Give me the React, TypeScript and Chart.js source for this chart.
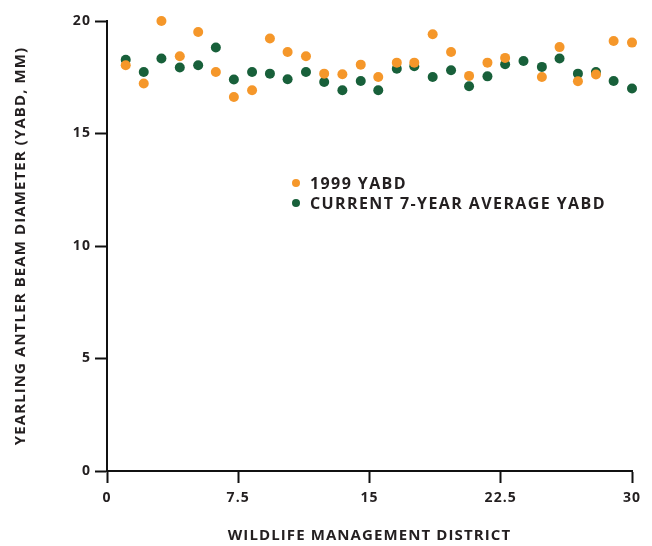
import React, { useEffect, useRef } from "react";
import { Chart, registerables } from "chart.js";

Chart.register(...registerables);

const districts = [
  1.07, 2.1, 3.11, 4.16, 5.21, 6.22, 7.25, 8.29, 9.31, 10.32, 11.37, 12.41, 13.45, 14.5, 15.5,
  16.56, 17.56, 18.61, 19.66, 20.69, 21.74, 22.75, 23.8, 24.85, 25.86, 26.91, 27.94, 28.95, 30.0,
];
const yabd1999: (number | null)[] = [
  18.03, 17.22, 20.0, 18.43, 19.51, 17.73, 16.62, 16.92, 19.22, 18.62, 18.43, 17.66, 17.63, 18.06, 17.51,
  18.15, 18.15, 19.41, 18.62, 17.56, 18.15, 18.36, null, 17.51, 18.84, 17.32, 17.62, 19.11, 19.04,
];
const yabdAverage = [
  18.28, 17.73, 18.33, 17.93, 18.03, 18.82, 17.4, 17.73, 17.66, 17.41, 17.73, 17.29, 16.92, 17.33, 16.92,
  17.88, 17.99, 17.51, 17.81, 17.1, 17.54, 18.08, 18.22, 17.96, 18.33, 17.66, 17.73, 17.33, 17.0,
];
const seriesLabels = ["1999 YABD", "CURRENT 7-YEAR AVERAGE YABD"];
const seriesColors = ["#F5972A", "#18603A"];
const xTitle = "WILDLIFE MANAGEMENT DISTRICT";
const yTitle = "YEARLING ANTLER BEAM DIAMETER (YABD, MM)";

const FONT = "'Open Sans', 'DejaVu Sans', sans-serif";
const INK = "#231f20";

const spacingPlugin = {
  id: "letterSpacing",
  beforeDraw(chart: any) {
    (chart.ctx as any).letterSpacing = "1.1px";
  },
  afterDraw(chart: any) {
    (chart.ctx as any).letterSpacing = "0px";
  },
};

const legendPlugin = {
  id: "customLegend",
  afterDraw(chart: any) {
    const { ctx, chartArea } = chart;
    const x0 = chartArea.left + 189;
    const y0 = chartArea.top + 162;
    ctx.save();
    ctx.letterSpacing = "1.4px";
    ctx.font = `700 16px ${FONT}`;
    ctx.textBaseline = "middle";
    ctx.textAlign = "left";
    seriesLabels.forEach((label, i) => {
      const y = y0 + i * 20;
      ctx.beginPath();
      ctx.fillStyle = seriesColors[i];
      ctx.arc(x0, y, 4, 0, Math.PI * 2);
      ctx.fill();
      ctx.fillStyle = INK;
      ctx.fillText(label, x0 + 14, y + 1);
    });
    ctx.restore();
  },
};

export default function App() {
  const canvasRef = useRef<HTMLCanvasElement | null>(null);

  useEffect(() => {
    if (!canvasRef.current) return;
    const mk = (vals: (number | null)[]) => districts.map((x, i) => ({ x, y: vals[i] }));
    const chart = new Chart(canvasRef.current, {
      type: "scatter",
      data: {
        datasets: [
          {
            label: seriesLabels[0],
            data: mk(yabd1999) as any,
            backgroundColor: seriesColors[0],
            borderColor: seriesColors[0],
            pointRadius: 5,
            borderWidth: 0,
            clip: false,
          },
          {
            label: seriesLabels[1],
            data: mk(yabdAverage) as any,
            backgroundColor: seriesColors[1],
            borderColor: seriesColors[1],
            pointRadius: 5,
            borderWidth: 0,
            clip: false,
          },
        ],
      },
      options: {
        animation: false,
        responsive: true,
        maintainAspectRatio: false,
        layout: { padding: { top: 21, right: 20, bottom: 0, left: 0 } },
        plugins: { legend: { display: false }, tooltip: { enabled: false } },
        scales: {
          x: {
            type: "linear",
            position: "bottom",
            min: 0,
            max: 30,
            afterFit: (s: any) => {
              s.height = 75;
            },
            ticks: {
              stepSize: 7.5,
              padding: 7,
              color: INK,
              font: { family: FONT, size: 14, weight: "700" },
            },
            grid: {
              display: true,
              drawOnChartArea: false,
              drawTicks: true,
              tickLength: 12,
              tickWidth: 2,
              tickColor: "#111",
            },
            border: { display: true, color: "#111", width: 2 },
            title: {
              display: true,
              text: xTitle,
              color: INK,
              font: { family: FONT, size: 15, weight: "700" },
              padding: { top: 4, bottom: 1 },
            },
          },
          y: {
            type: "linear",
            min: 0,
            max: 20,
            afterFit: (s: any) => {
              s.width = 107;
            },
            ticks: {
              stepSize: 5,
              padding: 4,
              color: INK,
              font: { family: FONT, size: 14, weight: "700" },
            },
            grid: {
              display: true,
              drawOnChartArea: false,
              drawTicks: true,
              tickLength: 12,
              tickWidth: 2,
              tickColor: "#111",
            },
            border: { display: true, color: "#111", width: 2 },
            title: {
              display: true,
              text: yTitle,
              color: INK,
              font: { family: FONT, size: 15, weight: "700" },
              padding: { top: 12, bottom: 0 },
            },
          },
        },
      },
      plugins: [spacingPlugin, legendPlugin],
    });
    return () => chart.destroy();
  }, []);

  return (
    <div style={{ position: "fixed", left: 0, top: 0, width: 652, height: 546, background: "#fff" }}>
      <canvas ref={canvasRef} />
    </div>
  );
}
